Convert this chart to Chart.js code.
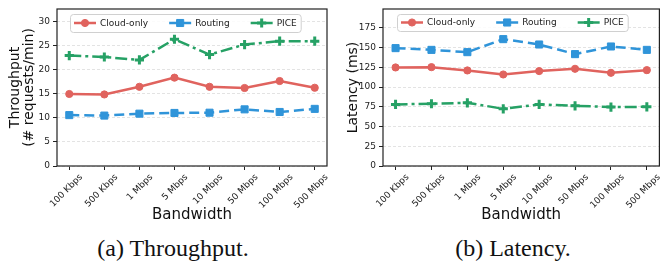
<!DOCTYPE html>
<html>
<head>
<meta charset="utf-8">
<script src="https://cdn.jsdelivr.net/npm/chart.js@4.4.1/dist/chart.umd.min.js"></script>
<style>
  body { margin: 0; background: #fff; width: 667px; height: 262px; position: relative; overflow: hidden; }
  .box { position: absolute; top: 0; height: 224px; }
  .cap { position: absolute; top: 235px; font-family: "Liberation Serif", serif; font-size: 24px; color: #111; text-align: center; line-height: 26px; }
</style>
</head>
<body>
<div class="box" style="left:0;width:335px"><canvas id="tp"></canvas></div>
<div class="box" style="left:335px;width:332px"><canvas id="lat"></canvas></div>
<div class="cap" style="left:0;width:346px">(a) Throughput.</div>
<div class="cap" style="left:335px;width:356px">(b) Latency.</div>
<script>
// x categories
const bandwidths = ["100 Kbps", "500 Kbps", "1 Mbps", "5 Mbps", "10 Mbps", "50 Mbps", "100 Mbps", "500 Mbps"];
const seriesNames = ["Cloud-only", "Routing", "PICE"];

// throughput (# requests/min)
const tpCloud = [15.0, 14.9, 16.5, 18.4, 16.5, 16.25, 17.7, 16.3];
const tpRouting = [10.6, 10.5, 10.9, 11.05, 11.1, 11.8, 11.25, 11.9];
const tpPice = [23.0, 22.7, 22.1, 26.4, 23.2, 25.3, 26.0, 26.0];
const tpTicks = [0, 5, 10, 15, 20, 25, 30];

// latency (ms)
const latCloud = [124.9, 125.3, 121.1, 116.0, 120.3, 123.2, 118.1, 121.5];
const latRouting = [149.4, 147.2, 144.3, 160.8, 154.0, 141.8, 151.5, 147.2];
const latPice = [78.1, 78.9, 80.1, 72.5, 78.1, 76.3, 74.7, 75.0];
const latTicks = [0, 25, 50, 75, 100, 125, 150, 175];

// red, blue, green
const colors = ["#e0635e", "#2f94d9", "#26a165"];
const dashes = [[], [10, 5], [12, 4, 3, 4]];
const markers = ["circle", "rect", "cross"];
const markerSize = [3.6, 5, 4.6];
const FONT = "'DejaVu Sans', sans-serif";

function createDataSets(data) {
  return data.map((values, i) => ({
    label: seriesNames[i],
    data: values.map((v, j) => ({ x: j, y: v })),
    borderColor: colors[i],
    backgroundColor: colors[i],
    borderWidth: 2.5,
    borderDash: dashes[i],
    pointStyle: markers[i],
    pointRadius: markerSize[i],
    pointBorderWidth: i == 2 ? 3 : 1,
    pointBorderColor: colors[i],
    pointBackgroundColor: colors[i],
    tension: 0,
  }));
}

// axes frame + legend inside the plot
const framePlugin = {
  id: "frame",
  afterDatasetsDraw(chart, args, opts) {
    const ctx = chart.ctx;
    const a = chart.chartArea;
    ctx.save();
    ctx.setLineDash([]);

    // legend
    ctx.font = "9px " + FONT;
    let x = opts.x + 4;
    const cy = opts.y + opts.h / 2;
    const items = [];
    for (let i = 0; i < seriesNames.length; i++) {
      items.push(x);
      x += 26 + ctx.measureText(seriesNames[i]).width + (i < seriesNames.length - 1 ? 21 : 4);
    }
    ctx.fillStyle = "rgba(255,255,255,0.85)";
    ctx.strokeStyle = "#d0d0d0";
    ctx.lineWidth = 1;
    ctx.beginPath();
    ctx.roundRect(opts.x + 0.5, opts.y + 0.5, x - opts.x, opts.h, 3);
    ctx.fill();
    ctx.stroke();
    items.forEach((lx, i) => {
      ctx.strokeStyle = colors[i];
      ctx.fillStyle = colors[i];
      ctx.lineWidth = 2.5;
      ctx.beginPath();
      ctx.moveTo(lx, cy);
      ctx.lineTo(lx + 22, cy);
      ctx.stroke();
      ctx.lineWidth = i == 2 ? 3 : 1;
      Chart.helpers.drawPoint(ctx, {
        pointStyle: markers[i], radius: markerSize[i], borderWidth: i == 2 ? 3 : 1,
      }, lx + 11, cy);
      ctx.fillStyle = "#222";
      ctx.textBaseline = "middle";
      ctx.fillText(seriesNames[i], lx + 26, cy + 0.5);
    });

    ctx.strokeStyle = "#222";
    ctx.lineWidth = 1.2;
    ctx.strokeRect(a.left, a.top, a.right - a.left, a.bottom - a.top);
    ctx.restore();
  },
};

function getConfig(data, yTicks, yMax, yTitle, opts) {
  return {
    type: "line",
    data: { datasets: createDataSets(data) },
    plugins: [framePlugin],
    options: {
      responsive: true,
      maintainAspectRatio: false,
      animation: false,
      devicePixelRatio: 1,
      layout: { padding: { top: 9, right: opts.padRight, left: 0, bottom: 0 } },
      plugins: {
        legend: { display: false },
        tooltip: { enabled: false },
        frame: opts.legend,
      },
      scales: {
        x: {
          type: "linear",
          min: -0.35,
          max: 7.35,
          afterBuildTicks: (scale) => { scale.ticks = bandwidths.map((b, i) => ({ value: i })); },
          afterFit: (scale) => { scale.height = 58; },
          grid: { drawOnChartArea: false, drawTicks: true, tickLength: 4, tickColor: "#222", tickWidth: 1 },
          border: { display: false },
          ticks: {
            autoSkip: false,
            maxRotation: 45,
            minRotation: 45,
            padding: 2,
            labelOffset: 12,
            color: "#222",
            font: { family: FONT, size: 9 },
            callback: (v) => bandwidths[v],
          },
          title: {
            display: true,
            text: "Bandwidth",
            color: "#111",
            font: { family: FONT, size: 15 },
            padding: 0,
          },
        },
        y: {
          min: 0,
          max: yMax,
          afterBuildTicks: (scale) => { scale.ticks = yTicks.map((v) => ({ value: v })); },
          afterFit: (scale) => { scale.width = opts.yWidth; },
          grid: { color: "#dcdcdc", lineWidth: 0.8, tickLength: 4, tickColor: "#222", tickWidth: 1, tickBorderDash: [] },
          border: { display: false, dash: [3, 2] },
          ticks: { padding: 3, color: "#222", font: { family: FONT, size: 9 } },
          title: {
            display: true,
            text: yTitle,
            color: "#111",
            font: { family: FONT, size: 14, lineHeight: 0.95 },
            padding: { top: opts.titlePad, bottom: 0 },
          },
        },
      },
    },
  };
}

new Chart(document.getElementById("tp"), getConfig(
  [tpCloud, tpRouting, tpPice], tpTicks, 32.7, ["Throughput", "(# requests/min)"],
  { padRight: 8, yWidth: 57, titlePad: 9, legend: { x: 70, y: 14, h: 18 } }
));
new Chart(document.getElementById("lat"), getConfig(
  [latCloud, latRouting, latPice], latTicks, 199, "Latency (ms)",
  { padRight: 3, yWidth: 48, titlePad: 12, legend: { x: 62, y: 14, h: 17 } }
));
</script>
</body>
</html>
